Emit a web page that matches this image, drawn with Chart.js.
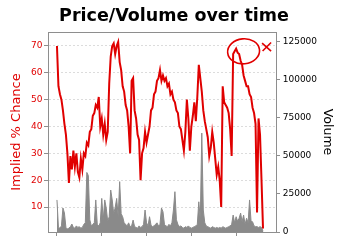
<!DOCTYPE html>
<html>
<head>
<meta charset="utf-8">
<script src="https://cdn.jsdelivr.net/npm/chart.js@4/dist/chart.umd.min.js"></script>
<style>
  html, body { margin: 0; padding: 0; background: #fff; }
  canvas { display: block; }
</style>
</head>
<body>
<canvas id="pvChart" width="343" height="244"></canvas>
<script>
// one value per trading day
const price = [
  70, 55, 52, 50, 46, 41, 37, 30, 19, 29,
  24, 31, 25, 30, 23, 21, 28, 24, 30, 29,
  34, 33, 38, 39, 44, 45, 48, 47, 51, 40,
  43, 37, 41, 35, 38, 56, 66, 70, 71, 67,
  70, 71.5, 64, 61, 55, 53, 48, 46, 40, 30,
  57, 58, 46, 43, 37, 35, 20, 30, 32, 38,
  34, 37, 40, 46, 47, 52, 53, 57, 58, 61,
  57, 59, 57, 58, 55, 56, 52, 53, 50, 49,
  46, 45, 40, 39, 35, 31, 38, 50, 43, 31,
  40, 44, 49, 42, 51, 63, 58, 53, 46, 42,
  39, 36, 29, 32, 38, 34, 28, 22, 25, 20,
  10, 55, 49, 48, 47, 45, 39, 29, 67, 68,
  69, 67.5, 67, 64.5, 63, 59, 57, 55, 55, 52,
  51, 47, 45, 41, 8, 43, 37, 20, 2
];
const volume = [
  21000, 3000, 2500, 4000, 15700, 12500, 3000, 2000, 2500, 3500,
  5200, 3000, 2500, 4000, 3000, 3500, 2500, 3000, 5000, 6000,
  39000, 37000, 8000, 4000, 5000, 6000, 21000, 5000, 4000, 6000,
  22000, 8000, 21000, 15700, 7000, 10000, 27500, 21000, 12000, 16000,
  22000, 10000, 33000, 12000, 10000, 6000, 5000, 4000, 6000, 3500,
  4000, 7800, 3500, 3000, 2500, 4000, 3000, 3500, 5000, 14400,
  6000, 4000, 10000, 4500, 3500, 4000, 5000, 6000, 4000, 5000,
  15700, 13300, 5000, 4000, 3500, 5000, 4000, 6000, 14400, 26400,
  8000, 5000, 3500, 4000, 3000, 2500, 3500, 3000, 4000, 3000,
  2500, 3000, 3500, 4000, 5000, 19800, 8000, 64800, 14400, 6000,
  4000, 3500, 3000, 2500, 3500, 3000, 2500, 3000, 2500, 3000,
  2500, 3500, 3000, 2500, 3000, 3500, 4000, 5000, 11100, 6000,
  10000, 7000, 9000, 12400, 6700, 11100, 5000, 9000, 6000, 21000,
  7000, 6700, 4000, 3500, 3500, 3000, 3500, 3000, 500
];
const days = price.map((_, i) => i);

const priceTicks = [10, 20, 30, 40, 50, 60, 70];
const volumeTicks = [0, 25000, 50000, 75000, 100000, 125000];
const dayTicks = [0, 30, 60, 90, 120];

// the hand drawn circle and cross in the top right
const circledPeak = { day: 125, chance: 68 };
const crossMark = { day: 140.4, chance: 69.6 };

const red = '#e00000';
const spine = '#8e8e8e';

Chart.defaults.font.family = 'DejaVu Sans';

const frameAndMarks = {
  id: 'frameAndMarks',
  afterDatasetsDraw(chart) {
    const { ctx, chartArea: a, scales } = chart;
    ctx.save();
    ctx.strokeStyle = spine;
    ctx.lineWidth = 1;
    ctx.beginPath();
    ctx.moveTo(a.left, a.top + 0.5);
    ctx.lineTo(a.right, a.top + 0.5);
    ctx.stroke();

    ctx.strokeStyle = red;
    ctx.lineWidth = 1.6;
    const cx = scales.x.getPixelForValue(circledPeak.day);
    const cy = scales.y.getPixelForValue(circledPeak.chance);
    ctx.beginPath();
    ctx.ellipse(cx, cy, 16, 12.5, -0.1, 0, Math.PI * 2);
    ctx.stroke();

    const xx = scales.x.getPixelForValue(crossMark.day);
    const xy = scales.y.getPixelForValue(crossMark.chance);
    ctx.beginPath();
    ctx.moveTo(xx - 4.5, xy - 4);
    ctx.lineTo(xx + 4.5, xy + 4);
    ctx.moveTo(xx + 4.5, xy - 4.5);
    ctx.lineTo(xx - 4, xy + 4);
    ctx.stroke();
    ctx.restore();
  }
};

new Chart(document.getElementById('pvChart'), {
  type: 'line',
  data: {
    labels: days,
    datasets: [
      {
        label: 'Implied % Chance',
        data: price,
        yAxisID: 'y',
        borderColor: red,
        borderWidth: 2,
        pointRadius: 0,
        tension: 0,
        order: 0
      },
      {
        label: 'Volume',
        data: volume,
        yAxisID: 'y1',
        borderColor: '#8a8a8a',
        backgroundColor: '#8a8a8a',
        borderWidth: 1,
        fill: 'origin',
        pointRadius: 0,
        tension: 0,
        order: 1
      }
    ]
  },
  options: {
    responsive: false,
    animation: false,
    events: [],
    layout: { padding: { left: 5 } },
    plugins: {
      legend: { display: false },
      tooltip: { enabled: false },
      title: {
        display: true,
        text: 'Price/Volume over time',
        color: '#000',
        font: { size: 17.5, weight: 'bold' },
        padding: { top: 6, bottom: 5 }
      }
    },
    scales: {
      x: {
        type: 'linear',
        min: -6,
        max: 146.7,
        afterBuildTicks: axis => { axis.ticks = dayTicks.map(v => ({ value: v })); },
        afterFit: axis => { axis.height = 12; },
        ticks: { display: false },
        grid: { drawOnChartArea: false, tickLength: 4, color: spine },
        border: { color: spine }
      },
      y: {
        position: 'left',
        min: 0.7,
        max: 75.2,
        afterBuildTicks: axis => { axis.ticks = priceTicks.map(v => ({ value: v })); },
        afterFit: axis => { axis.width = 43; },
        ticks: { color: red, font: { size: 9 }, padding: 1.5 },
        grid: { color: '#dcdcdc', tickLength: 4, tickColor: spine, tickBorderDash: [] },
        border: { color: spine, dash: [2, 2] },
        title: {
          display: true,
          text: 'Implied % Chance',
          color: red,
          font: { size: 13 },
          padding: { top: 3.5, bottom: 0 }
        }
      },
      y1: {
        position: 'right',
        min: 0,
        max: 131000,
        afterBuildTicks: axis => { axis.ticks = volumeTicks.map(v => ({ value: v })); },
        afterFit: axis => { axis.width = 67; },
        ticks: { color: '#000', font: { size: 9 }, padding: 2.7, callback: v => String(v) },
        grid: { drawOnChartArea: false, tickLength: 4, color: spine },
        border: { color: spine },
        title: {
          display: true,
          text: 'Volume',
          color: '#000',
          font: { size: 12.5 },
          padding: { top: 8, bottom: 0 }
        }
      }
    }
  },
  plugins: [frameAndMarks]
});
</script>
</body>
</html>
